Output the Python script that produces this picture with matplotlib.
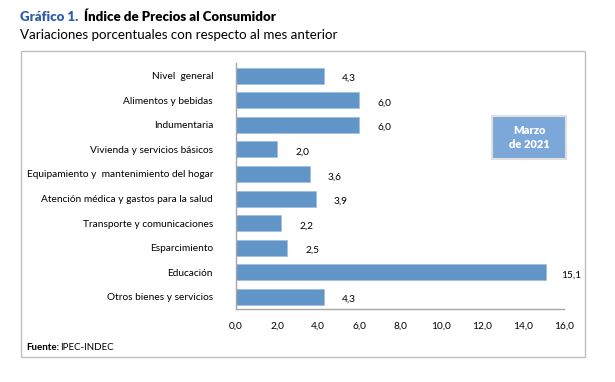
import matplotlib
matplotlib.use("Agg")
import matplotlib.pyplot as plt
from matplotlib.patches import Rectangle

plt.rcParams['font.family'] = ['Lato', 'DejaVu Sans']

categories = ["Nivel  general", "Alimentos y bebidas", "Indumentaria",
              "Vivienda y servicios básicos", "Equipamiento y  mantenimiento del hogar",
              "Atención médica y gastos para la salud", "Transporte y comunicaciones",
              "Esparcimiento", "Educación", "Otros bienes y servicios"]
values = [4.3, 6.0, 6.0, 2.0, 3.6, 3.9, 2.2, 2.5, 15.1, 4.3]
xticks = [0, 2, 4, 6, 8, 10, 12, 14, 16]

W, H = 615, 382
fig = plt.figure(figsize=(W/100, H/100), dpi=100)
fig.patch.set_facecolor('white')

# outer frame
fig.add_artist(Rectangle((21/W, 1-357/H), (585-21)/W, (357-51)/H, transform=fig.transFigure,
                         fill=False, edgecolor='#BFBFBF', linewidth=1.0))

ax = fig.add_axes([236/W, 1-309/H, (564-236)/W, (309-63.5)/H])
y = list(range(len(categories)))
ax.barh(y, values, height=0.65, color='#6195C8', edgecolor='#9DBDE0', linewidth=0.5)
ax.set_ylim(len(categories)-0.5, -0.5)
ax.set_xlim(0, 16)
ax.set_xticks(xticks)
ax.set_xticklabels([f"{t:.1f}".replace('.', ',') for t in xticks], fontsize=7.3)
ax.set_yticks(y)
ax.set_yticklabels(categories, fontsize=7.25)
ax.tick_params(axis='y', length=0, pad=16.5)
ax.tick_params(axis='x', length=0, pad=9)
for s in ['top', 'right']:
    ax.spines[s].set_visible(False)
for s in ['left', 'bottom']:
    ax.spines[s].set_color('#A6A6A6')
    ax.spines[s].set_linewidth(1.0)

for yi, v in zip(y, values):
    ax.annotate(f"{v:.1f}".replace('.', ','), (v, yi), xytext=(13 if v < 10 else 11, -2),
                textcoords='offset points', fontsize=7.3, ha='left', va='center', color='black')

# Marzo box
fig.add_artist(Rectangle((492/W, 1-159/H), (566-492)/W, (159-116)/H, transform=fig.transFigure,
                         facecolor='#7BA7D9', edgecolor='#E0E0E0', linewidth=1.5))
fig.text(529/W, 1-137.5/H, "Marzo\nde 2021", ha='center', va='center', color='white',
         fontsize=8, fontweight='heavy', linespacing=1.3)

# titles
fig.text(20/W, 1-17/H, "Gráfico 1.", color='#2E5CA8', fontsize=9.5, fontweight='heavy', va='center')
fig.text(84/W, 1-17/H, "Índice de Precios al Consumidor", color='black', fontsize=9.5,
         fontweight='heavy', va='center')
fig.text(20/W, 1-35/H, "Variaciones porcentuales con respecto al mes anterior", color='black',
         fontsize=9.6, va='center')

fig.text(26/W, 1-347/H, "Fuente:", fontsize=7, fontweight='bold', va='center')
fig.text(60/W, 1-347/H, "IPEC-INDEC", fontsize=7, va='center')

fig.savefig("out.png", dpi=100)
